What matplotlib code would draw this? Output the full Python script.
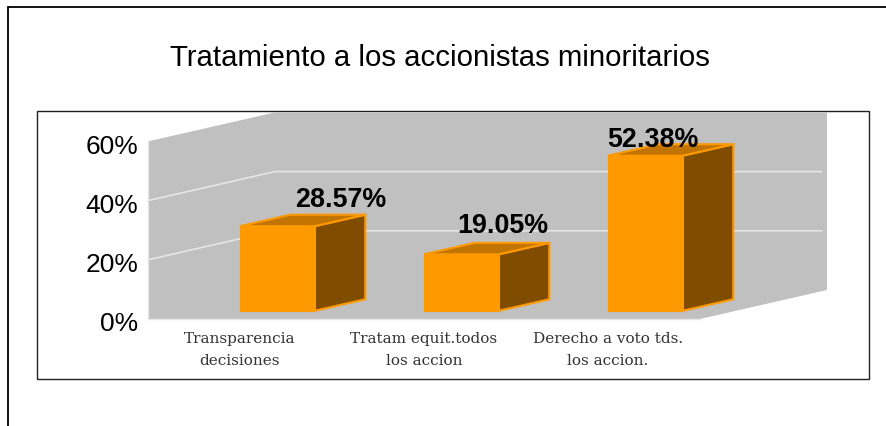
import matplotlib
matplotlib.use('Agg')
import matplotlib.pyplot as plt
from matplotlib.patches import Polygon, Rectangle
from matplotlib.transforms import ScaledTranslation

categories = ['Transparencia\ndecisiones', 'Tratam equit.todos\nlos accion', 'Derecho a voto tds.\nlos accion.']
values = [28.57, 19.05, 52.38]
value_labels = ['28.57%', '19.05%', '52.38%']
y_ticks = [0, 20, 40, 60]
y_tick_labels = ['0%', '20%', '40%', '60%']
title = 'Tratamiento a los accionistas minoritarios'

W, H = 887, 427
YMAX = 60

# 3D look: how far the back wall and the bars are pushed, in data units
WALL_DX, WALL_DY = 0.69, 9.8
BAR_DX, BAR_DY = 0.274, 3.87
BAR_W = 0.407
BAR_BASE = 2.8

ORANGE = '#ff9900'
TOP = '#c27400'
SIDE = '#804d00'
WALL = '#c0c0c0'
GRID = '#e6e6e6'

plt.rcParams['font.family'] = ['Liberation Sans', 'DejaVu Sans']

fig = plt.figure(figsize=(W / 100, H / 100), dpi=100, facecolor='white')

# page frame and chart box live on a pixel-sized background axes
bg = fig.add_axes([0, 0, 1, 1], zorder=0)
bg.set_xlim(0, W)
bg.set_ylim(H, 0)
bg.axis('off')
bg.plot([8, 8, W], [H, 7.5, 7.5], color='black', lw=1.3, solid_joinstyle='miter')
bg.add_patch(Rectangle((37, 111.5), 832, 268.5, fc='white', ec='#222222', lw=1))
bg.text(440, 58, title, fontsize=21.2, ha='center', va='center', color='black')

ax = fig.add_axes([148 / W, (H - 320) / H, 552 / W, 177.6 / H], zorder=1)
ax.patch.set_alpha(0)
ax.set_xlim(-0.5, 2.5)
ax.set_ylim(0, YMAX)
for s in ax.spines.values():
    s.set_visible(False)

# back wall and floor as one grey shape
ax.add_patch(Polygon([(-0.5, 0), (-0.5, YMAX), (-0.5 + WALL_DX, YMAX + WALL_DY),
                      (2.5 + WALL_DX, YMAX + WALL_DY), (2.5 + WALL_DX, WALL_DY), (2.5, 0)],
                     fc=WALL, ec='none', clip_on=False, zorder=1))
ax.plot([-0.5, -0.5, 2.5], [YMAX, 0, 0], color=GRID, lw=1, clip_on=False, zorder=1.5)

for v in y_ticks[1:-1]:
    ax.plot([-0.5, -0.5 + WALL_DX, 2.5 + WALL_DX - 0.03], [v, v + WALL_DY, v + WALL_DY],
            color=GRID, lw=1.2, clip_on=False, zorder=1.5)

for i, v in enumerate(values):
    x0, x1 = i, i + BAR_W
    y0, y1 = BAR_BASE, BAR_BASE + v
    ax.add_patch(Polygon([(x1, y0), (x1 + BAR_DX, y0 + BAR_DY), (x1 + BAR_DX, y1 + BAR_DY), (x1, y1)],
                         fc=SIDE, ec=ORANGE, lw=1.5, clip_on=False, zorder=2, joinstyle='miter'))
    ax.add_patch(Polygon([(x0, y1), (x0 + BAR_DX, y1 + BAR_DY), (x1 + BAR_DX, y1 + BAR_DY), (x1, y1)],
                         fc=TOP, ec=ORANGE, lw=1.5, clip_on=False, zorder=2, joinstyle='miter'))
    ax.add_patch(Rectangle((x0, y0), BAR_W, v, fc=ORANGE, ec=ORANGE, lw=0.8, clip_on=False, zorder=3))

# labels were hand placed around the bars, offsets in pixels from the front top left corner
label_offsets = [(101, 27), (79, 29), (45, 17)]
for i, v in enumerate(values):
    ax.annotate(value_labels[i], (i, BAR_BASE + v), xytext=label_offsets[i], textcoords='offset pixels',
                ha='center', va='center', fontsize=19.4, fontweight='bold', color='black',
                annotation_clip=False, zorder=4)

ax.set_yticks(y_ticks)
ax.set_yticklabels(y_tick_labels, fontsize=19)
ax.set_xticks(range(len(categories)))
ax.set_xticklabels(categories, family='DejaVu Serif', fontsize=11, color='#333333', linespacing=1.75)
ax.tick_params(axis='both', length=0)
ax.tick_params(axis='y', pad=7)
ax.tick_params(axis='x', pad=8.5)

# percent labels sit a little below their gridlines
shift = ScaledTranslation(0, -2 / 100, fig.dpi_scale_trans)
for lab in ax.get_yticklabels():
    lab.set_transform(lab.get_transform() + shift)

fig.savefig('out.png', dpi=100)
